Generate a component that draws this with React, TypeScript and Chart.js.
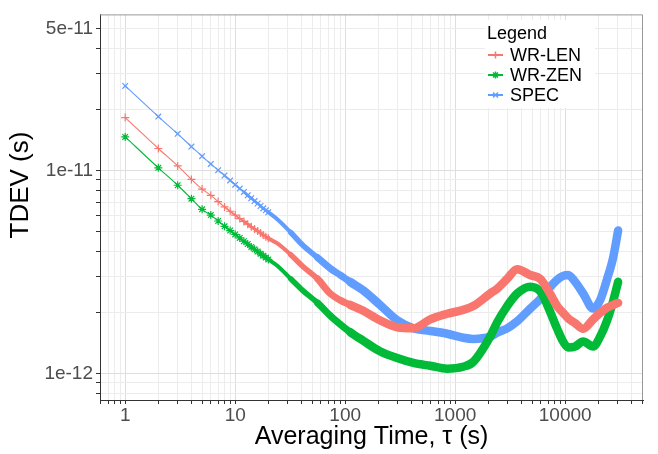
import React, { useEffect, useRef } from 'react';
import { Chart, registerables } from 'chart.js';

Chart.register(...registerables);

// Averaging time tau (s)
const TAU = [
  1, 2, 3, 4, 5, 6, 7, 8, 9, 10, 11, 12, 13, 14, 15, 16, 17, 18, 19, 20,
  24, 32, 41, 56, 73, 90, 111, 146, 207, 297, 417, 593, 846, 1182, 1460, 2080,
  2410, 2970, 3660, 4810, 5930, 6860, 8460, 9590, 10650, 12330, 14570, 17970,
  20800, 24090, 27300, 30300,
];

// TDEV values in picoseconds (1e-12 s)
const WR_LEN_PS = [
  18.28, 12.87, 10.56, 9.06, 8.12, 7.56, 7.04, 6.63, 6.31, 6.04, 5.81, 5.62, 5.45, 5.29, 5.16, 5.04, 4.93, 4.82, 4.73, 4.64,
  4.39, 3.85, 3.38, 2.93, 2.48, 2.30, 2.18, 2.04, 1.83, 1.69, 1.67, 1.85, 1.97, 2.06, 2.15, 2.48,
  2.62, 2.93, 3.27, 3.06, 2.93, 2.62, 2.15, 1.99, 1.87, 1.77, 1.66, 1.85,
  1.99, 2.11, 2.18, 2.23,
];
const WR_ZEN_PS = [
  14.68, 10.33, 8.48, 7.28, 6.45, 6.04, 5.65, 5.32, 5.07, 4.85, 4.66, 4.49, 4.35, 4.21, 4.10, 3.99, 3.89, 3.81, 3.73, 3.65,
  3.41, 2.93, 2.57, 2.23, 1.93, 1.75, 1.60, 1.45, 1.287, 1.192, 1.128, 1.092, 1.056, 1.08, 1.141, 1.52,
  1.79, 2.15, 2.48, 2.68, 2.54, 2.18, 1.66, 1.436, 1.345, 1.36, 1.436, 1.36,
  1.52, 1.83, 2.276, 2.83,
];
const SPEC_PS = [
  26.2, 18.5, 15.2, 13.15, 11.79, 10.8, 10.06, 9.47, 8.96, 8.53, 8.16, 7.86, 7.56, 7.32, 7.08, 6.89, 6.70, 6.52, 6.38, 6.24,
  5.78, 4.96, 4.30, 3.73, 3.30, 3.06, 2.83, 2.57, 2.18, 1.83, 1.67, 1.62, 1.57, 1.50, 1.48, 1.52,
  1.59, 1.67, 1.81, 2.09, 2.33, 2.57, 2.90, 3.03, 3.06, 2.83, 2.48, 2.09,
  2.30, 2.93, 3.73, 5.07,
];

const SERIES_NAMES = ['WR-LEN', 'WR-ZEN', 'SPEC'];
const SERIES_COLORS = ['#F8766D', '#00BA38', '#619CFF'];
const SERIES_SHAPES = ['cross', 'star', 'crossRot'];

const X_LABELED = [1, 10, 100, 1000, 10000];
const Y_LABELED = [5e-11, 1e-11, 1e-12];
const Y_LABEL_TEXT = ['5e-11', '1e-11', '1e-12'];

const X_TITLE = 'Averaging Time, \u03c4 (s)';
const Y_TITLE = 'TDEV (s)';
const LEGEND_TITLE = 'Legend';

const FONT = '"Liberation Sans", Arial, Helvetica, sans-serif';

function logTicks(min: number, max: number) {
  const out: { value: number }[] = [];
  for (let e = Math.floor(Math.log10(min)); e <= Math.ceil(Math.log10(max)); e++) {
    for (let m = 1; m <= 9; m++) {
      const v = parseFloat((m * Math.pow(10, e)).toPrecision(6));
      if (v >= min && v <= max) out.push({ value: v });
    }
  }
  return out;
}

function isDecade(v: number) {
  const l = Math.log10(v);
  return Math.abs(l - Math.round(l)) < 1e-6;
}

function near(a: number, b: number) {
  return Math.abs(a - b) / Math.abs(b) < 1e-6;
}

function drawMarker(ctx: CanvasRenderingContext2D, shape: string, x: number, y: number, r: number) {
  ctx.beginPath();
  if (shape === 'cross' || shape === 'star') {
    ctx.moveTo(x - r, y); ctx.lineTo(x + r, y);
    ctx.moveTo(x, y - r); ctx.lineTo(x, y + r);
  }
  if (shape === 'crossRot' || shape === 'star') {
    const d = r * 0.7071;
    ctx.moveTo(x - d, y - d); ctx.lineTo(x + d, y + d);
    ctx.moveTo(x - d, y + d); ctx.lineTo(x + d, y - d);
  }
  ctx.stroke();
}

const framePlugin = {
  id: 'frame',
  beforeDraw(chart: any) {
    const ctx = chart.ctx;
    ctx.save();
    ctx.fillStyle = '#ffffff';
    ctx.fillRect(0, 0, chart.width, chart.height);
    ctx.restore();
  },
  afterDatasetsDraw(chart: any) {
    const ctx = chart.ctx as CanvasRenderingContext2D;
    const a = chart.chartArea;
    ctx.save();
    // top & right panel border
    ctx.strokeStyle = '#999999';
    ctx.lineWidth = 1;
    ctx.beginPath();
    ctx.moveTo(a.left, a.top + 0.5);
    ctx.lineTo(a.right - 0.5, a.top + 0.5);
    ctx.lineTo(a.right - 0.5, a.bottom);
    ctx.stroke();

    // legend
    const lx = 485, ly = 20;
    ctx.fillStyle = '#ffffff';
    ctx.fillRect(lx, ly, 110, 88);
    ctx.fillStyle = '#000000';
    ctx.font = `18px ${FONT}`;
    ctx.textAlign = 'left';
    ctx.textBaseline = 'middle';
    ctx.fillText(LEGEND_TITLE, 487, 34);
    SERIES_NAMES.forEach((name, i) => {
      const y = 55 + i * 20;
      ctx.strokeStyle = SERIES_COLORS[i];
      ctx.lineWidth = 2;
      ctx.beginPath();
      ctx.moveTo(488, y);
      ctx.lineTo(503, y);
      ctx.stroke();
      ctx.lineWidth = 1.5;
      drawMarker(ctx, SERIES_SHAPES[i], 495.5, y, 3.5);
      ctx.fillStyle = '#000000';
      ctx.fillText(name, 510, y + 1);
    });

    // axis titles
    ctx.fillStyle = '#000000';
    ctx.font = `25px ${FONT}`;
    ctx.textAlign = 'center';
    ctx.textBaseline = 'middle';
    ctx.fillText(X_TITLE, (a.left + a.right) / 2, 437);
    ctx.translate(21, 185);
    ctx.rotate(-Math.PI / 2);
    ctx.font = `26px ${FONT}`;
    ctx.fillText(Y_TITLE, 0, 0);
    ctx.restore();
  },
};

function lineWidthFor(tau: number) {
  if (tau < 8) return 1.1;
  if (tau < 12) return 1.8;
  if (tau < 20) return 2.8;
  if (tau < 32) return 4;
  if (tau < 56) return 5.5;
  if (tau < 111) return 7;
  return 8.5;
}

export default function App() {
  const ref = useRef<HTMLCanvasElement | null>(null);

  useEffect(() => {
    const canvas = ref.current;
    if (!canvas) return;
    const seriesPs = [WR_LEN_PS, WR_ZEN_PS, SPEC_PS];
    const datasets = SERIES_NAMES.map((name, i) => ({
      label: name,
      data: TAU.map((t, j) => ({ x: t, y: seriesPs[i][j] * 1e-12 })),
      borderColor: SERIES_COLORS[i],
      backgroundColor: SERIES_COLORS[i],
      borderWidth: 1.1,
      borderCapStyle: 'round',
      borderJoinStyle: 'round',
      cubicInterpolationMode: 'monotone',
      pointStyle: SERIES_SHAPES[i],
      pointBorderColor: SERIES_COLORS[i],
      pointBorderWidth: 1.2,
      pointRadius: (c: any) => (c.raw && c.raw.x <= 20 ? 4 : 0),
      pointHoverRadius: 0,
      segment: {
        borderWidth: (c: any) => lineWidthFor(TAU[c.p0DataIndex]),
      },
    }));

    const chart = new Chart(canvas, {
      type: 'line',
      data: { datasets } as any,
      options: {
        responsive: false,
        animation: false,
        layout: { padding: { top: 1, right: 15, left: 0, bottom: 0 } },
        plugins: { legend: { display: false }, tooltip: { enabled: false } },
        scales: {
          x: {
            type: 'logarithmic',
            min: 0.59,
            max: 51000,
            afterBuildTicks: (s: any) => { s.ticks = logTicks(0.59, 51000); },
            afterFit: (s: any) => { s.height = 54; },
            ticks: {
              autoSkip: false,
              maxRotation: 0,
              padding: 0,
              color: '#4d4d4d',
              font: { size: 19, family: FONT },
              callback: (v: any) => {
                const n = Number(v);
                return X_LABELED.some((x) => near(n, x)) ? String(Math.round(n)) : '';
              },
            },
            grid: {
              color: (c: any) => (c.tick && isDecade(c.tick.value) ? '#dedede' : '#ececec'),
              lineWidth: 1,
              tickLength: 4,
              tickColor: '#333333',
            },
            border: { color: '#333333', width: 1 },
          },
          y: {
            type: 'logarithmic',
            min: 7.4e-13,
            max: 5.9e-11,
            afterBuildTicks: (s: any) => { s.ticks = logTicks(7.4e-13, 5.9e-11); },
            afterFit: (s: any) => { s.width = 100; },
            ticks: {
              autoSkip: false,
              padding: 3,
              color: '#4d4d4d',
              font: { size: 19, family: FONT },
              callback: (v: any) => {
                const n = Number(v);
                const k = Y_LABELED.findIndex((y) => near(n, y));
                return k >= 0 ? Y_LABEL_TEXT[k] : '';
              },
            },
            grid: {
              color: (c: any) => (c.tick && isDecade(c.tick.value) ? '#dedede' : '#ececec'),
              lineWidth: 1,
              tickLength: 4,
              tickColor: '#333333',
            },
            border: { color: '#333333', width: 1 },
          },
        },
      } as any,
      plugins: [framePlugin],
    });
    return () => chart.destroy();
  }, []);

  return (
    <div style={{ position: 'fixed', left: 0, top: 0, width: 658, height: 454, background: '#fff' }}>
      <canvas ref={ref} width={658} height={454} style={{ display: 'block' }} />
    </div>
  );
}
